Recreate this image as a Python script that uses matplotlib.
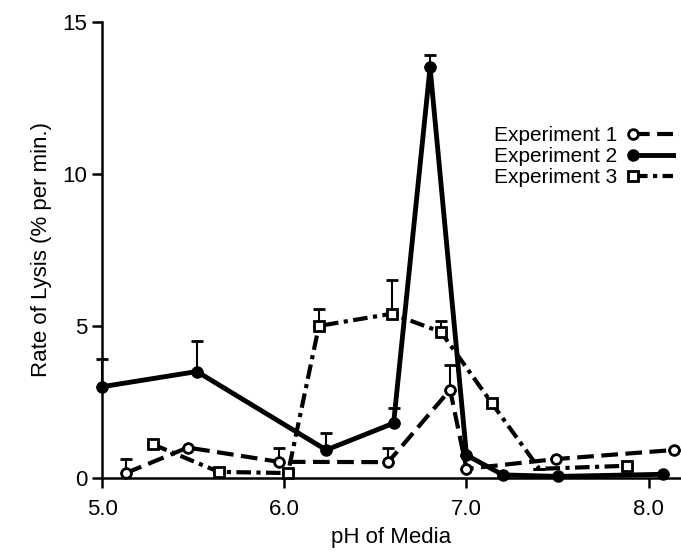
import numpy as np
from matplotlib import pyplot as plt
from matplotlib.lines import Line2D
from matplotlib.legend_handler import HandlerLine2D

plt.rcParams['font.family'] = ['Liberation Sans', 'DejaVu Sans']

# Experiment 1 (open circles, dashed)
ph1 = [5.13, 5.47, 5.97, 6.57, 6.91, 7.0, 7.49, 8.14]
rate1 = [0.16, 1.0, 0.53, 0.52, 2.9, 0.3, 0.62, 0.92]
err1 = [0.45, 0, 0.47, 0.48, 0.8, 0, 0, 0]

# Experiment 2 (filled circles, solid)
ph2 = [5.0, 5.52, 6.23, 6.6, 6.8, 7.0, 7.2, 7.5, 8.08]
rate2 = [3.0, 3.5, 0.92, 1.8, 13.5, 0.75, 0.1, 0.05, 0.12]
err2 = [0.9, 1.0, 0.55, 0.5, 0.4, 0, 0, 0, 0]

# Experiment 3 (open squares, dash-dot)
ph3 = [5.28, 5.64, 6.02, 6.19, 6.59, 6.86, 7.14, 7.4, 7.88]
rate3 = [1.1, 0.2, 0.16, 5.0, 5.4, 4.8, 2.45, 0.3, 0.4]
err3 = [0, 0, 0, 0.55, 1.1, 0.35, 0, 0, 0]


# legend key: marker at the left end of the line
class LeftMarker(HandlerLine2D):
    def create_artists(self, legend, orig_handle, xdescent, ydescent,
                       width, height, fontsize, trans):
        xdata, _ = self.get_xdata(legend, xdescent, ydescent, width, height, fontsize)
        y = (height - ydescent) / 2
        x0 = xdata[0] + 4
        line = Line2D([x0, xdata[-1]], [y, y])
        self.update_prop(line, orig_handle, legend)
        line.set_marker('None')
        line.set_markevery(None)
        mark = Line2D([x0], [y])
        self.update_prop(mark, orig_handle, legend)
        mark.set_linestyle('None')
        mark.set_markevery(None)
        line.set_transform(trans)
        mark.set_transform(trans)
        return [line, mark]


fig = plt.figure(figsize=(6.81, 5.59), dpi=100)
ax = fig.add_axes([0.150, 0.145, 0.848, 0.816])

def draw(x, y, e, ls, marker, fill, label, lw=3, every=None):
    ax.errorbar(x, y, yerr=[np.zeros(len(e)), e], fmt='none', ecolor='black',
                elinewidth=1.5, capsize=4, capthick=2, clip_on=False)
    return ax.plot(x, y, color='black', linestyle=ls, linewidth=lw, marker=marker,
                   markersize=7, markerfacecolor=fill, markeredgecolor='black',
                   markeredgewidth=2, label=label, clip_on=False, zorder=3,
                   markevery=every)[0]

h1 = draw(ph1, rate1, err1, (0, (4, 1.8)), 'o', 'white', 'Experiment 1')
h2 = draw(ph2, rate2, err2, '-', 'o', 'black', 'Experiment 2', lw=3.5)
h3 = draw(ph3, rate3, err3, (0, (3.5, 1.3, 1, 1.3)), 's', 'white', 'Experiment 3',
          every=[0, 1, 2, 3, 4, 5, 6, 8])

ax.set_xlim(5.0, 8.17)
ax.set_ylim(0, 15)
ax.set_xticks([5.0, 6.0, 7.0, 8.0])
ax.set_xticklabels(['5.0', '6.0', '7.0', '8.0'])
ax.set_yticks([0, 5, 10, 15])
ax.spines['top'].set_visible(False)
ax.spines['right'].set_visible(False)
ax.spines['left'].set_linewidth(1.8)
ax.spines['bottom'].set_linewidth(1.8)
ax.tick_params(axis='both', labelsize=16, width=1.8, length=7, direction='out')
ax.tick_params(axis='x', pad=8)
ax.set_xlabel('pH of Media', fontsize=16, labelpad=5)
ax.set_ylabel('Rate of Lysis (% per min.)', fontsize=16, labelpad=8)

ax.legend(handles=[h1, h2, h3], loc='upper right', bbox_to_anchor=(1.003, 0.79),
          frameon=False, markerfirst=False, fontsize=15, handlelength=2.2,
          handletextpad=0.5, labelspacing=0.1, borderaxespad=0,
          handler_map={h1: LeftMarker(), h2: LeftMarker(), h3: LeftMarker()})

plt.savefig('out.png', dpi=100)
